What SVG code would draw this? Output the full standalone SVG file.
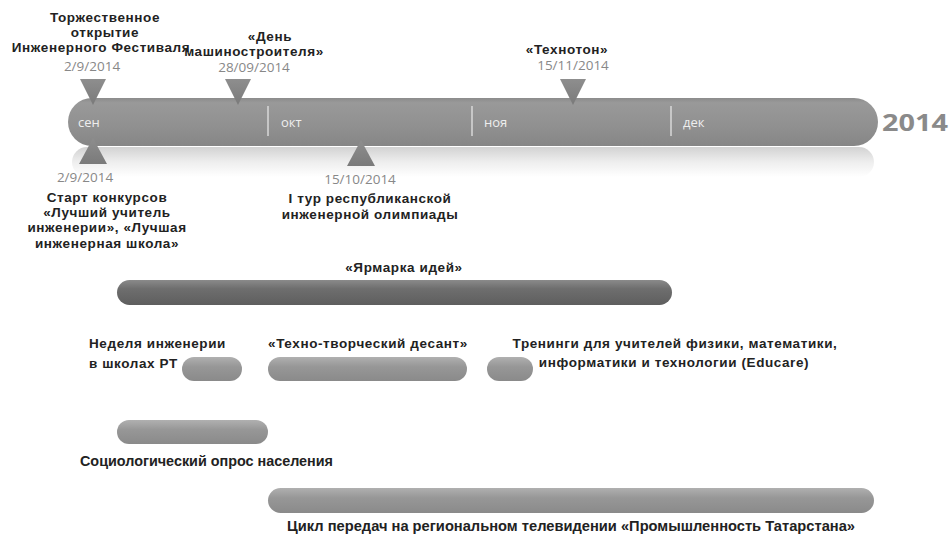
<svg xmlns="http://www.w3.org/2000/svg" width="950" height="540" viewBox="0 0 950 540">
<defs>
<linearGradient id="mainG" x1="0" y1="0" x2="0" y2="1">
<stop offset="0" stop-color="#8c8c8c"/><stop offset="0.1" stop-color="#999"/><stop offset="0.6" stop-color="#909090"/><stop offset="1" stop-color="#868686"/>
</linearGradient>
<linearGradient id="reflG" x1="0" y1="0" x2="0" y2="1">
<stop offset="0" stop-color="#d2d2d2"/><stop offset="0.5" stop-color="#eeeeee"/><stop offset="1" stop-color="#ffffff"/>
</linearGradient>
<linearGradient id="darkG" x1="0" y1="0" x2="0" y2="1">
<stop offset="0" stop-color="#8a8a8a"/><stop offset="0.35" stop-color="#6e6e6e"/><stop offset="1" stop-color="#5e5e5e"/>
</linearGradient>
<linearGradient id="lightG" x1="0" y1="0" x2="0" y2="1">
<stop offset="0" stop-color="#b0b0b0"/><stop offset="0.4" stop-color="#979797"/><stop offset="1" stop-color="#8a8a8a"/>
</linearGradient>
<linearGradient id="triG" x1="0" y1="0" x2="0" y2="1">
<stop offset="0" stop-color="#8e8e8e"/><stop offset="1" stop-color="#7a7a7a"/>
</linearGradient>
<style>
.t{font-family:"Liberation Sans",Arial,sans-serif;font-weight:bold;font-size:13.5px;fill:#222;text-anchor:middle;letter-spacing:0.6px}
.tl{font-family:"Liberation Sans",Arial,sans-serif;font-weight:bold;font-size:13.5px;fill:#222;letter-spacing:0.6px}
.c{font-family:"Liberation Sans",Arial,sans-serif;font-weight:bold;font-size:14.5px;fill:#222}
.d{font-family:"Open Sans","Liberation Sans",sans-serif;font-size:13.5px;fill:#888;text-anchor:middle}
.m{font-family:"Open Sans","Liberation Sans",sans-serif;font-size:13px;fill:#eee}
.yr{font-family:"Open Sans","Liberation Sans",sans-serif;font-weight:bold;font-size:24px;fill:#8a8a8a}
.tri{fill:url(#triG)}
.div{stroke:#d8d8d8;stroke-width:1.5}
</style>
</defs>
<g id="timeline">
<rect x="72" y="147" width="802" height="30" rx="15" fill="url(#reflG)"/>
<rect x="68" y="98" width="810" height="48" rx="24" fill="url(#mainG)"/>
<line class="div" x1="268" y1="106" x2="268" y2="136"/>
<line class="div" x1="472" y1="106" x2="472" y2="136"/>
<line class="div" x1="671" y1="106" x2="671" y2="136"/>
<text class="m" x="78" y="127">сен</text>
<text class="m" x="281" y="127">окт</text>
<text class="m" x="484" y="127">ноя</text>
<text class="m" x="683" y="127">дек</text>
<text class="yr" x="882" y="131" textLength="66" lengthAdjust="spacingAndGlyphs">2014</text>
</g>
<g id="ev-opening">
<text class="t" x="105" y="22">Торжественное</text>
<text class="t" x="105" y="37">открытие</text>
<text class="t" x="101" y="52">Инженерного Фестиваля</text>
<text class="d" x="92" y="71">2/9/2014</text>
<polygon class="tri" points="80,79 106,79 93,105"/>
</g>
<g id="ev-machine">
<text class="t" x="270" y="41">«День</text>
<text class="t" x="254" y="56">машиностроителя»</text>
<text class="d" x="254" y="72">28/09/2014</text>
<polygon class="tri" points="225,79 251,79 238,105"/>
</g>
<g id="ev-technoton">
<text class="t" x="567" y="54">«Технотон»</text>
<text class="d" x="573" y="70">15/11/2014</text>
<polygon class="tri" points="560,79 586,79 573,105"/>
</g>
<g id="ev-contest">
<polygon class="tri" points="93,138 107,164 79,164"/>
<text class="d" x="85" y="182">2/9/2014</text>
<text class="t" x="107" y="202">Старт конкурсов</text>
<text class="t" x="107" y="217">«Лучший учитель</text>
<text class="t" x="107" y="232">инженерии», «Лучшая</text>
<text class="t" x="107" y="248">инженерная школа»</text>
</g>
<g id="ev-olymp">
<polygon class="tri" points="361,140 375,166 347,166"/>
<text class="d" x="360" y="184">15/10/2014</text>
<text class="t" x="370" y="203">I тур республиканской</text>
<text class="t" x="370" y="219">инженерной олимпиады</text>
</g>
<g id="bar-fair">
<text class="t" x="404" y="272">«Ярмарка идей»</text>
<rect x="117" y="280" width="555" height="25" rx="12.5" fill="url(#darkG)"/>
</g>
<g id="bar-week">
<text class="tl" x="89" y="348">Неделя инженерии</text>
<text class="tl" x="89" y="368">в школах РТ</text>
<rect x="182" y="357" width="60" height="24" rx="12" fill="url(#lightG)"/>
</g>
<g id="bar-desant">
<text class="t" x="368" y="348">«Техно-творческий десант»</text>
<rect x="268" y="357" width="199" height="24" rx="12" fill="url(#lightG)"/>
</g>
<g id="bar-training">
<text class="t" x="675" y="348">Тренинги для учителей физики, математики,</text>
<text class="t" x="674" y="367">информатики и технологии (Educare)</text>
<rect x="487" y="357" width="46" height="24" rx="12" fill="url(#lightG)"/>
</g>
<g id="bar-survey">
<rect x="117" y="420" width="151" height="24" rx="12" fill="url(#lightG)"/>
<text class="c" x="80" y="466" textLength="253" lengthAdjust="spacingAndGlyphs">Социологический опрос населения</text>
</g>
<g id="bar-tv">
<rect x="268" y="488" width="606" height="25" rx="12.5" fill="url(#lightG)"/>
<text class="c" x="287" y="531" textLength="568" lengthAdjust="spacingAndGlyphs">Цикл передач на региональном телевидении «Промышленность Татарстана»</text>
</g>
<g id="connectors"/>
</svg>
